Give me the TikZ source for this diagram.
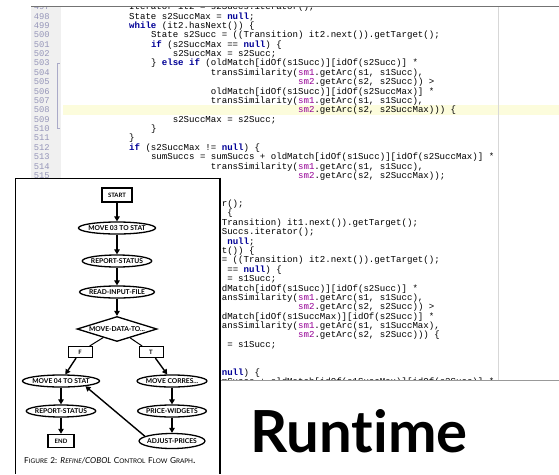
\documentclass[tikz,border=0pt]{standalone}
\usepackage{fontspec}
\usetikzlibrary{shapes.geometric,arrows.meta}

\newfontfamily\codefont{Liberation Mono}
\newfontfamily\figfont{Lato}[Ligatures=NoCommon]
\definecolor{kwblue}{RGB}{0,0,150}
\definecolor{fldpurple}{RGB}{150,0,150}
\definecolor{lnumgrey}{RGB}{150,150,185}
\definecolor{guttergrey}{RGB}{240,240,240}
\definecolor{hlyellow}{RGB}{252,252,220}
\definecolor{margingrey}{RGB}{215,215,215}
\definecolor{foldgrey}{RGB}{170,170,200}
\newcommand{\kw}[1]{\textcolor{kwblue}{\bfseries #1}}
\newcommand{\fld}[1]{\textcolor{fldpurple}{#1}}
\newcommand{\smc}[2]{{\fontsize{8.2}{9}\selectfont #1}{\fontsize{6.4}{7}\selectfont #2}}

\begin{document}
\begin{tikzpicture}[x=1pt, y=-1pt,
    code/.style={anchor=base west, inner sep=0pt, font=\codefont\fontsize{9.08}{9.38}\selectfont},
    lnum/.style={anchor=base east, inner sep=0pt, text=lnumgrey, font=\codefont\fontsize{8.8}{9.38}\selectfont},
    termbox/.style={draw, rectangle, line width=1.8pt, inner sep=0pt, font=\figfont\bfseries\fontsize{6}{6}\selectfont},
    branchbox/.style={draw, rectangle, line width=1pt, minimum width=24pt, minimum height=11pt, inner sep=0pt, font=\figfont\bfseries\fontsize{6}{6}\selectfont},
    stmt/.style={draw, ellipse, line width=1.3pt, minimum height=12pt, inner xsep=-1.5pt, inner ysep=0pt, font=\figfont\bfseries\fontsize{6.7}{6.7}\selectfont},
    test/.style={draw, diamond, aspect=3.2, line width=1.3pt, minimum width=80pt, minimum height=25pt, inner sep=0pt, font=\figfont\bfseries\fontsize{6.7}{6.7}\selectfont},
    flow/.style={line width=1.4pt, -{Triangle[length=5pt,width=5.5pt]}}]
    \useasboundingbox (0,0) rectangle (559,474);
    \fill[white] (0,0) rectangle (559,474);

    % editor window
    \begin{scope}
        \clip (31,7) rectangle (559,380.5);
        \fill[guttergrey] (31,7) rectangle (61,380.5);
        \fill[hlyellow] (63,105) rectangle (559,114.5);
        \draw[margingrey] (498,7) -- (498,380.5);
        \draw[foldgrey] (59.5,63) -- (57,63) -- (57,128.5) -- (59.5,128.5);
        \begin{scope}[shift={(129,{19-498*9.38})}, x=5.45pt, y=-9.38pt]
            \node[lnum] (n497) at (-14.5,497) {497};
            \node[lnum] (n498) at (-14.5,498) {498};
            \node[lnum] (n499) at (-14.5,499) {499};
            \node[lnum] (n500) at (-14.5,500) {500};
            \node[lnum] (n501) at (-14.5,501) {501};
            \node[lnum] (n502) at (-14.5,502) {502};
            \node[lnum] (n503) at (-14.5,503) {503};
            \node[lnum] (n504) at (-14.5,504) {504};
            \node[lnum] (n505) at (-14.5,505) {505};
            \node[lnum] (n506) at (-14.5,506) {506};
            \node[lnum] (n507) at (-14.5,507) {507};
            \node[lnum] (n508) at (-14.5,508) {508};
            \node[lnum] (n509) at (-14.5,509) {509};
            \node[lnum] (n510) at (-14.5,510) {510};
            \node[lnum] (n511) at (-14.5,511) {511};
            \node[lnum] (n512) at (-14.5,512) {512};
            \node[lnum] (n513) at (-14.5,513) {513};
            \node[lnum] (n514) at (-14.5,514) {514};
            \node[lnum] (n515) at (-14.5,515) {515};

            \node[code] (c497) at (0,497) {Iterator it2 = s2Succs.iterator();};
            \node[code] (c498) at (0,498) {State s2SuccMax = \kw{null};};
            \node[code] (c499) at (0,499) {\kw{while} (it2.hasNext()) \{};
            \node[code] (c500) at (4,500) {State s2Succ = ((Transition) it2.next()).getTarget();};
            \node[code] (c501) at (4,501) {\kw{if} (s2SuccMax == \kw{null}) \{};
            \node[code] (c502) at (8,502) {s2SuccMax = s2Succ;};
            \node[code] (c503) at (4,503) {\} \kw{else} \kw{if} (oldMatch[idOf(s1Succ)][idOf(s2Succ)] *};
            \node[code] (c504) at (15,504) {transSimilarity(\fld{sm1}.getArc(s1, s1Succ),};
            \node[code] (c505) at (31,505) {\fld{sm2}.getArc(s2, s2Succ)) >};
            \node[code] (c506) at (15,506) {oldMatch[idOf(s1Succ)][idOf(s2SuccMax)] *};
            \node[code] (c507) at (15,507) {transSimilarity(\fld{sm1}.getArc(s1, s1Succ),};
            \node[code] (c508) at (31,508) {\fld{sm2}.getArc(s2, s2SuccMax))) \{};
            \node[code] (c509) at (8,509) {s2SuccMax = s2Succ;};
            \node[code] (c510) at (4,510) {\}};
            \node[code] (c511) at (0,511) {\}};
            \node[code] (c512) at (0,512) {\kw{if} (s2SuccMax != \kw{null}) \{};
            \node[code] (c513) at (4,513) {sumSuccs = sumSuccs + oldMatch[idOf(s1Succ)][idOf(s2SuccMax)] *};
            \node[code] (c514) at (15,514) {transSimilarity(\fld{sm1}.getArc(s1, s1Succ),};
            \node[code] (c515) at (31,515) {\fld{sm2}.getArc(s2, s2SuccMax));};
            % only the ends of these lines show beside the pasted figure
            \node[code] (c518) at (17,518) {r();};
            \node[code] (c519) at (18,519) {\{};
            \node[code] (c520) at (17,520) {Transition) it1.next()).getTarget();};
            \node[code] (c521) at (17,521) {Succs.iterator();};
            \node[code] (c522) at (18,522) {\kw{null};};
            \node[code] (c523) at (17,523) {t()) \{};
            \node[code] (c524) at (17,524) {= ((Transition) it2.next()).getTarget();};
            \node[code] (c525) at (18,525) {== \kw{null}) \{};
            \node[code] (c526) at (18,526) {= s1Succ;};
            \node[code] (c527) at (17,527) {dMatch[idOf(s1Succ)][idOf(s2Succ)] *};
            \node[code] (c528) at (17,528) {ansSimilarity(\fld{sm1}.getArc(s1, s1Succ),};
            \node[code] (c529) at (31,529) {\fld{sm2}.getArc(s2, s2Succ)) >};
            \node[code] (c530) at (17,530) {dMatch[idOf(s1SuccMax)][idOf(s2Succ)] *};
            \node[code] (c531) at (17,531) {ansSimilarity(\fld{sm1}.getArc(s1, s1SuccMax),};
            \node[code] (c532) at (31,532) {\fld{sm2}.getArc(s2, s2Succ))) \{};
            \node[code] (c533) at (18,533) {= s1Succ;};
            \node[code] (c536) at (17,536) {\kw{null}) \{};
            \node[code] (c537) at (17,537) {mSuccs + oldMatch[idOf(s1SuccMax)][idOf(s2Succ)] *};
        \end{scope}
    \end{scope}
    \draw[black!55, line width=1.2pt] (31,6.5) -- (559,6.5);
    \draw[black!40] (221,380.5) -- (559,380.5);

    % pasted flow graph
    \fill[white] (15,178) rectangle (221,474);
    \draw[line width=0.8pt] (220,178) -- (15,178) -- (15,474);
    \draw[line width=2pt] (220,177.6) -- (220,474);

    \node[termbox, minimum width=30pt, minimum height=14pt] (start) at (117,195) {START};
    \node[stmt] (m03) at (117,228) {MOVE 03 TO STAT};
    \node[stmt] (rep1) at (117,261) {REPORT-STATUS};
    \node[stmt] (read) at (117,292) {READ-INPUT-FILE};
    \node[test] (dec) at (117,329) {MOVE-DATA-TO...};
    \node[branchbox] (f) at (80,352) {F};
    \node[branchbox] (t) at (151,352) {T};
    \node[stmt] (m04) at (61,381) {MOVE 04 TO STAT};
    \node[stmt] (mcor) at (172,381) {MOVE CORRES...};
    \node[stmt] (rep2) at (61,411) {REPORT-STATUS};
    \node[stmt] (price) at (172,411) {PRICE-WIDGETS};
    \node[termbox, line width=1.5pt, minimum width=26pt, minimum height=13pt] (stop) at (61,441) {END};
    \node[stmt, minimum height=15pt] (adj) at (172,441) {ADJUST-PRICES};
    \node[anchor=west, inner sep=0pt, font=\figfont] (cap) at (24,461)
        {\smc{F}{IGURE} \smc{2:}{} \textit{\smc{R}{EFINE}\smc{/COBOL}{}} \smc{C}{ONTROL} \smc{F}{LOW} \smc{G}{RAPH}.};

    \draw[flow] (start) -- (m03);
    \draw[flow] (m03) -- (rep1);
    \draw[flow] (rep1) -- (read);
    \draw[flow] (read) -- (dec);
    \draw[line width=1pt] (dec) -- (f);
    \draw[line width=1pt] (dec) -- (t);
    \draw[flow] (f) -- (m04);
    \draw[flow] (t) -- (mcor);
    \draw[flow] (m04) -- (rep2);
    \draw[flow] (rep2) -- (stop);
    \draw[flow] (mcor) -- (price);
    \draw[flow] (price) -- (adj);
    \draw[flow] (adj.170) -- (m04.-12);

    \node[anchor=base, inner sep=0pt, font=\figfont\bfseries\fontsize{58}{58}\selectfont] (rt) at (359,452) {Runtime};
\end{tikzpicture}
\end{document}
